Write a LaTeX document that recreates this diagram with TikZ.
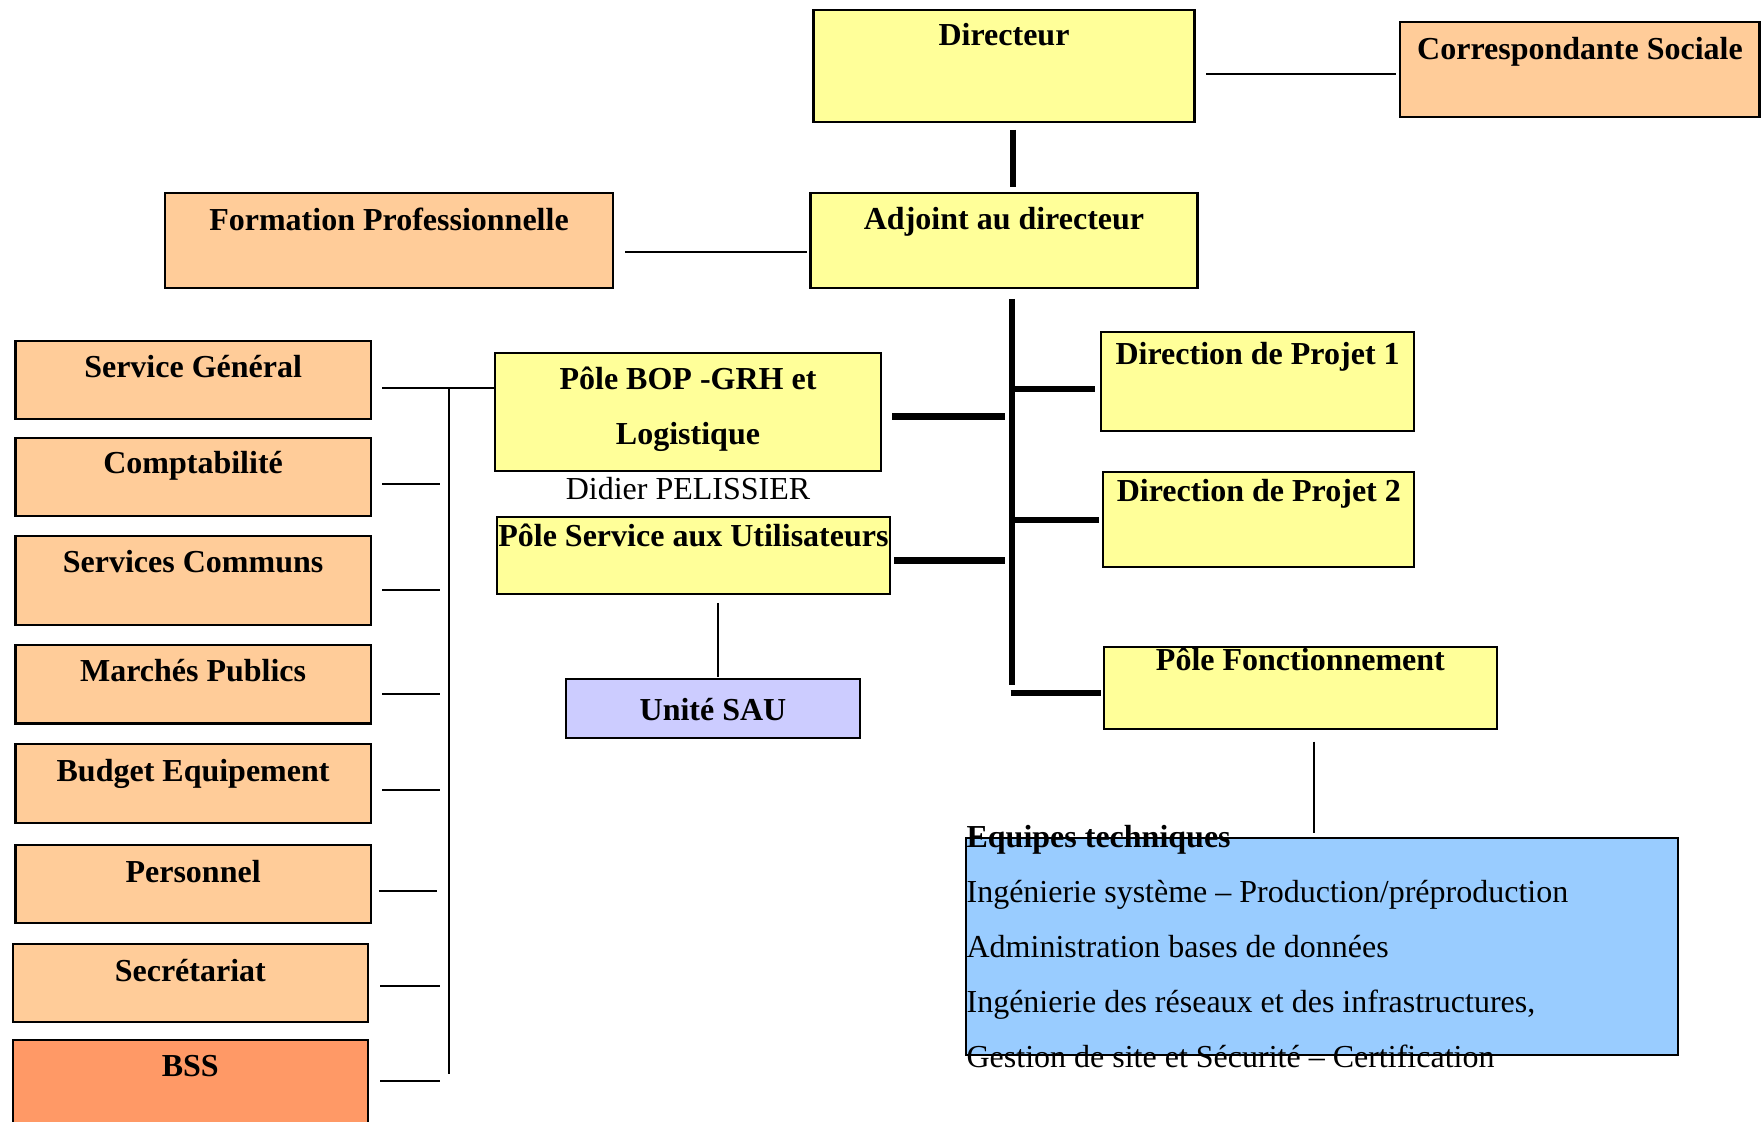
\documentclass[tikz,border=0pt]{standalone}
\usepackage{fontspec}
\setmainfont{Liberation Serif}
\usetikzlibrary{fit,calc}
\definecolor{cyel}{HTML}{FFFF99}
\definecolor{corg}{HTML}{FFCC99}
\definecolor{cbss}{HTML}{FF9966}
\definecolor{csau}{HTML}{CCCCFF}
\definecolor{cblue}{HTML}{99CCFF}
\begin{document}
\begin{tikzpicture}[x=0.5pt,y=-0.5pt,
  obox/.style={draw=black, line width=1.1pt, inner sep=0pt},
  lbl/.style={inner sep=0pt, anchor=base, font=\fontsize{16}{27.5}\selectfont\bfseries},
  rlbl/.style={inner sep=0pt, anchor=base west, font=\fontsize{16}{27.5}\selectfont},
  thinline/.style={line width=1pt},
  thickline/.style={line width=3.2pt}]
\useasboundingbox (0,0) rectangle (1762,1122);
\fill[white] (0,0) rectangle (1762,1122);

% boxes
\node[obox, fill=cyel, fit={(813.5,10) (1194.5,122)}] (dir) {};
\node[obox, fill=corg, fit={(1400,21.7) (1759.5,116.7)}] (cs) {};
\node[obox, fill=cyel, fit={(810.5,192.7) (1197.5,288.3)}] (adj) {};
\node[obox, fill=corg, fit={(164.8,192.7) (613,288.3)}] (fp) {};
\node[obox, fill=cyel, fit={(494.8,352.7) (881,470.7)}] (bop) {};
\node[obox, fill=cyel, fit={(497,517.3) (889.8,593.8)}] (psu) {};
\node[obox, fill=csau, fit={(566,679.2) (860,738)}] (sau) {};
\node[obox, fill=cyel, fit={(1101,332) (1414.3,431)}] (dp1) {};
\node[obox, fill=cyel, fit={(1103.3,471.7) (1414.3,566.7)}] (dp2) {};
\node[obox, fill=cyel, fit={(1103.8,647) (1497,729)}] (pf) {};
\node[obox, fill=cblue, fit={(966.2,837.7) (1677.6,1055)}] (eq) {};

\node[obox, fill=corg, fit={(15.5,340.7) (370.8,418.7)}] (sg) {};
\node[obox, fill=corg, fit={(15.5,437.7) (370.8,516)}] (cpt) {};
\node[obox, fill=corg, fit={(15.5,536) (370.8,625.3)}] (scm) {};
\node[obox, fill=corg, fit={(15.5,645) (370.8,723.5)}] (mp) {};
\node[obox, fill=corg, fit={(15.5,744.2) (370.8,822.7)}] (be) {};
\node[obox, fill=corg, fit={(15.5,845.1) (370.8,923.2)}] (pers) {};
\node[obox, fill=corg, fit={(12.6,943.6) (368,1022.1)}] (sec) {};
\node[obox, fill=cbss, fit={(12.6,1039.7) (368,1135)}] (bss) {};

% labels
\node[lbl] (dirT) at (1004,46) {Directeur};
\node[lbl] (csT) at (1580,59.3) {Correspondante Sociale};
\node[lbl] (adjT) at (1004,230) {Adjoint au directeur};
\node[lbl] (fpT) at (389,230.7) {Formation Professionnelle};
\node[lbl] (bopT1) at (688,390) {Pôle BOP -GRH et};
\node[lbl] (bopT2) at (688,445) {Logistique};
\node[inner sep=0pt, anchor=base, font=\fontsize{16}{27.5}\selectfont] (didier) at (688,500) {Didier PELISSIER};
\node[lbl] (psuT) at (693.4,546.7) {Pôle Service aux Utilisateurs};
\node[lbl] (sauT) at (713,720) {Unité SAU};
\node[lbl] (dp1T) at (1257.6,364.3) {Direction de Projet 1};
\node[lbl] (dp2T) at (1258.8,501.7) {Direction de Projet 2};
\node[lbl] (pfT) at (1300.4,670.7) {Pôle Fonctionnement};

\node[lbl] (sgT) at (193.1,377.3) {Service Général};
\node[lbl] (cptT) at (193.1,474) {Comptabilité};
\node[lbl] (scmT) at (193.1,572.7) {Services Communs};
\node[lbl] (mpT) at (193.1,682) {Marchés Publics};
\node[lbl] (beT) at (193.1,781.2) {Budget Equipement};
\node[lbl] (persT) at (193.1,882.5) {Personnel};
\node[lbl] (secT) at (190.3,981.7) {Secrétariat};
\node[lbl] (bssT) at (190.3,1076) {BSS};

\node[lbl, anchor=base west] (eq1) at (966.2,847) {Equipes techniques};
\node[rlbl] (eq2) at (966.2,902) {Ingénierie système – Production/préproduction};
\node[rlbl] (eq3) at (966.2,957.7) {Administration bases de données};
\node[rlbl] (eq4) at (966.2,1012) {Ingénierie des réseaux et des infrastructures,};
\node[rlbl] (eq5) at (966.2,1067.7) {Gestion de site et Sécurité – Certification};

% connector coordinates
\coordinate (dcsA) at (1206,73.7);  \coordinate (dcsB) at (1396,73.7);
\coordinate (daA) at (1013,130);    \coordinate (daB) at (1013,187);
\coordinate (fpA) at (625,252);     \coordinate (fpB) at (806.5,252);
\coordinate (busT) at (1012,299);   \coordinate (busB) at (1012,685);
\coordinate (bopA) at (892.4,416.7); \coordinate (bopB) at (1005,416.7);
\coordinate (psuA) at (894,560.7);  \coordinate (psuB) at (1005,560.7);
\coordinate (dp1A) at (1012,389.3); \coordinate (dp1B) at (1095,389.3);
\coordinate (dp2A) at (1012,520);   \coordinate (dp2B) at (1099.3,520);
\coordinate (pfA) at (1010.5,693.3); \coordinate (pfB) at (1100.5,693.3);
\coordinate (pfdA) at (1313.7,741.7); \coordinate (pfdB) at (1313.7,833.3);
\coordinate (sauA) at (718,602.8);  \coordinate (sauB) at (718,676.8);
\coordinate (sgA) at (382.3,388);
\coordinate (lbT) at (449,388);     \coordinate (lbB) at (449,1073.6);

% connectors
\draw[thinline] (dcsA) -- (dcsB);
\draw[thickline] (daA) -- (daB);
\draw[thinline] (fpA) -- (fpB);
\draw[thickline] (busT) -- (busB);
\draw[thickline] (bopA) -- (bopB);
\draw[thickline] (psuA) -- (psuB);
\draw[thickline] (dp1A) -- (dp1B);
\draw[thickline] (dp2A) -- (dp2B);
\draw[thickline] (pfA) -- (pfB);
\draw[thinline] (pfdA) -- (pfdB);
\draw[thinline] (sauA) -- (sauB);
\draw[thinline] (sgA) -- (sgA -| bop.west);
\draw[thinline] (lbT) -- (lbB);
\foreach \yy/\xa/\xb in {484/382.3/440.3, 590/382.3/440.3, 694/382.3/440.3, 789.8/382.3/440.3, 891.1/378.9/437.4, 985.5/380/440.3, 1081.2/380/440.3}
  \draw[thinline] (\xa,\yy) -- (\xb,\yy);
\end{tikzpicture}
\end{document}
